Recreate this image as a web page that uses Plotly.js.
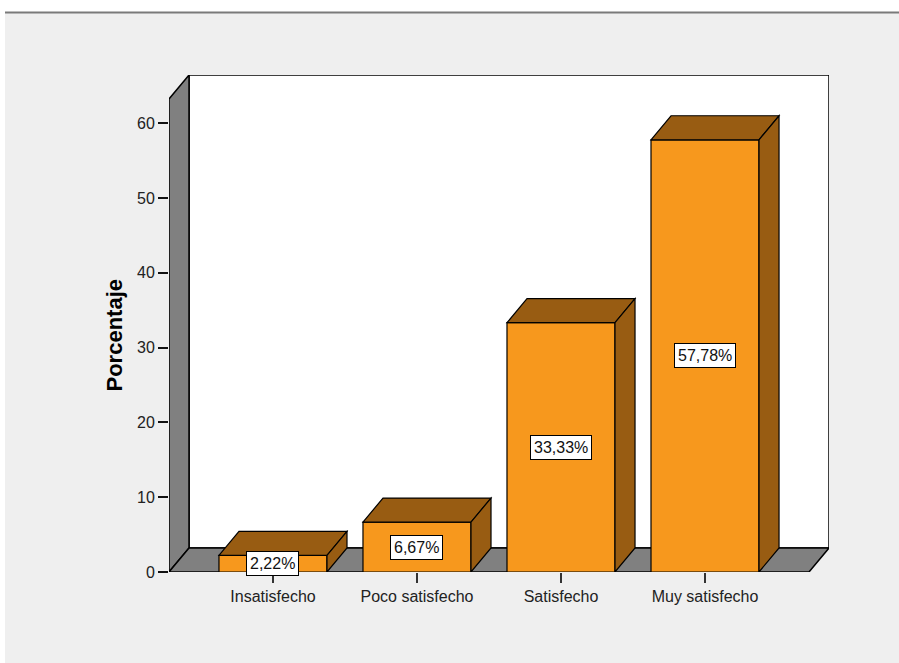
<!DOCTYPE html>
<html>
<head>
<meta charset="utf-8">
<script src="https://cdn.plot.ly/plotly-3.0.1.min.js"></script>
<style>
  html, body { margin: 0; padding: 0; background: #ffffff; }
  #chart { width: 899px; height: 663px; }
</style>
</head>
<body>
<div id="chart"></div>
<script>
// Satisfaction levels and their share of respondents (%)
const categories = ['Insatisfecho', 'Poco satisfecho', 'Satisfecho', 'Muy satisfecho'];
const percentages = [2.22, 6.67, 33.33, 57.78];
const valueLabels = ['2,22%', '6,67%', '33,33%', '57,78%'];
const yTicks = [0, 10, 20, 30, 40, 50, 60];
const yTitle = 'Porcentaje';

// Pseudo-3D styling
const FRONT = '#F7981D';
const SHADE = '#985C12';
const WALL = '#808080';
const FONT = 'Arial, Liberation Sans, sans-serif';
const BAR_W = 0.75;
const DX = 0.139;   // depth offset along x (category units)
const DY = 3.21;    // depth offset along y (percent units)
const X_MIN = -0.722, X_MAX = 3.861;
const Y_MAX = 66.44;

const xIdx = categories.map((_, i) => i);

function poly(pts) {
  return 'M' + pts.map(p => p[0] + ',' + p[1]).join('L') + 'Z';
}

const shapes = [];

// page frame: white strip on top/left with a grey rule
const L = 169, R = 829, T = 75, B = 572;
const px = v => (v - L) / (R - L);
const py = v => (B - v) / (B - T);
shapes.push({type: 'rect', xref: 'paper', yref: 'paper', layer: 'below',
  x0: px(0), x1: px(899), y0: py(0), y1: py(13),
  fillcolor: '#ffffff', line: {width: 0}});
shapes.push({type: 'rect', xref: 'paper', yref: 'paper', layer: 'below',
  x0: px(0), x1: px(5), y0: py(0), y1: py(663),
  fillcolor: '#ffffff', line: {width: 0}});
shapes.push({type: 'line', xref: 'paper', yref: 'paper', layer: 'below',
  x0: px(5), x1: px(899), y0: py(12.5), y1: py(12.5),
  line: {color: '#7a7a7a', width: 2}});

// back wall
const backL = X_MIN + DX, backR = X_MAX;
shapes.push({type: 'path', layer: 'below', xref: 'x', yref: 'y',
  path: poly([[backL, DY], [backL, Y_MAX], [backR, Y_MAX], [backR, DY]]),
  fillcolor: '#ffffff', line: {color: '#000', width: 1.5}});
// left wall
shapes.push({type: 'path', layer: 'below', xref: 'x', yref: 'y',
  path: poly([[X_MIN, 0], [X_MIN, Y_MAX - DY], [backL, Y_MAX], [backL, DY]]),
  fillcolor: WALL, line: {color: '#000', width: 1.5}});
// floor
shapes.push({type: 'path', layer: 'below', xref: 'x', yref: 'y',
  path: poly([[X_MIN, 0], [backL, DY], [backR, DY], [backR - DX, 0]]),
  fillcolor: WALL, line: {color: '#000', width: 1.5}});

// top and side faces of every bar
percentages.forEach((v, i) => {
  const l = i - BAR_W / 2, r = i + BAR_W / 2;
  shapes.push({type: 'path', layer: 'above', xref: 'x', yref: 'y',
    path: poly([[l, v], [l + DX, v + DY], [r + DX, v + DY], [r, v]]),
    fillcolor: SHADE, line: {color: '#000', width: 1.2}});
  shapes.push({type: 'path', layer: 'above', xref: 'x', yref: 'y',
    path: poly([[r, 0], [r, v], [r + DX, v + DY], [r + DX, DY]]),
    fillcolor: SHADE, line: {color: '#000', width: 1.2}});
});

// value labels in the middle of each bar
const annotations = percentages.map((v, i) => ({
  x: i, y: v / 2, xref: 'x', yref: 'y',
  text: valueLabels[i], showarrow: false,
  font: {family: FONT, size: 16, color: '#111'},
  bgcolor: '#ffffff', bordercolor: '#000', borderwidth: 1, borderpad: 3
}));

// y-axis title, centred on the front edge of the side wall
annotations.push({
  x: px(115), xref: 'paper', y: (Y_MAX - DY) / 2, yref: 'y',
  text: '<b>' + yTitle + '</b>', textangle: -90, showarrow: false,
  xanchor: 'center', yanchor: 'middle',
  font: {family: FONT, size: 22, color: '#000'}
});

const trace = {
  type: 'bar',
  x: xIdx,
  y: percentages,
  width: BAR_W,
  marker: {color: FRONT, line: {color: '#000', width: 1.2}},
  hoverinfo: 'none'
};

const layout = {
  width: 899, height: 663,
  margin: {l: L, r: 899 - R, t: T, b: 663 - B, pad: 0},
  paper_bgcolor: '#efefef',
  plot_bgcolor: '#efefef',
  showlegend: false,
  font: {family: FONT, color: '#222'},
  xaxis: {
    range: [X_MIN, X_MAX],
    tickvals: xIdx, ticktext: categories,
    ticks: 'outside', ticklen: 10, tickwidth: 1.5, tickcolor: '#333',
    tickfont: {size: 16, color: '#222'},
    showgrid: false, zeroline: false, showline: false, fixedrange: true
  },
  yaxis: {
    range: [0, Y_MAX],
    tickvals: yTicks,
    ticks: 'outside', ticklen: 10, tickwidth: 2, tickcolor: '#111',
    tickfont: {size: 16, color: '#222'},
    showgrid: false, zeroline: false, showline: false, fixedrange: true
  },
  shapes: shapes,
  annotations: annotations
};

Plotly.newPlot('chart', [trace], layout, {displayModeBar: false, staticPlot: true});
</script>
</body>
</html>
